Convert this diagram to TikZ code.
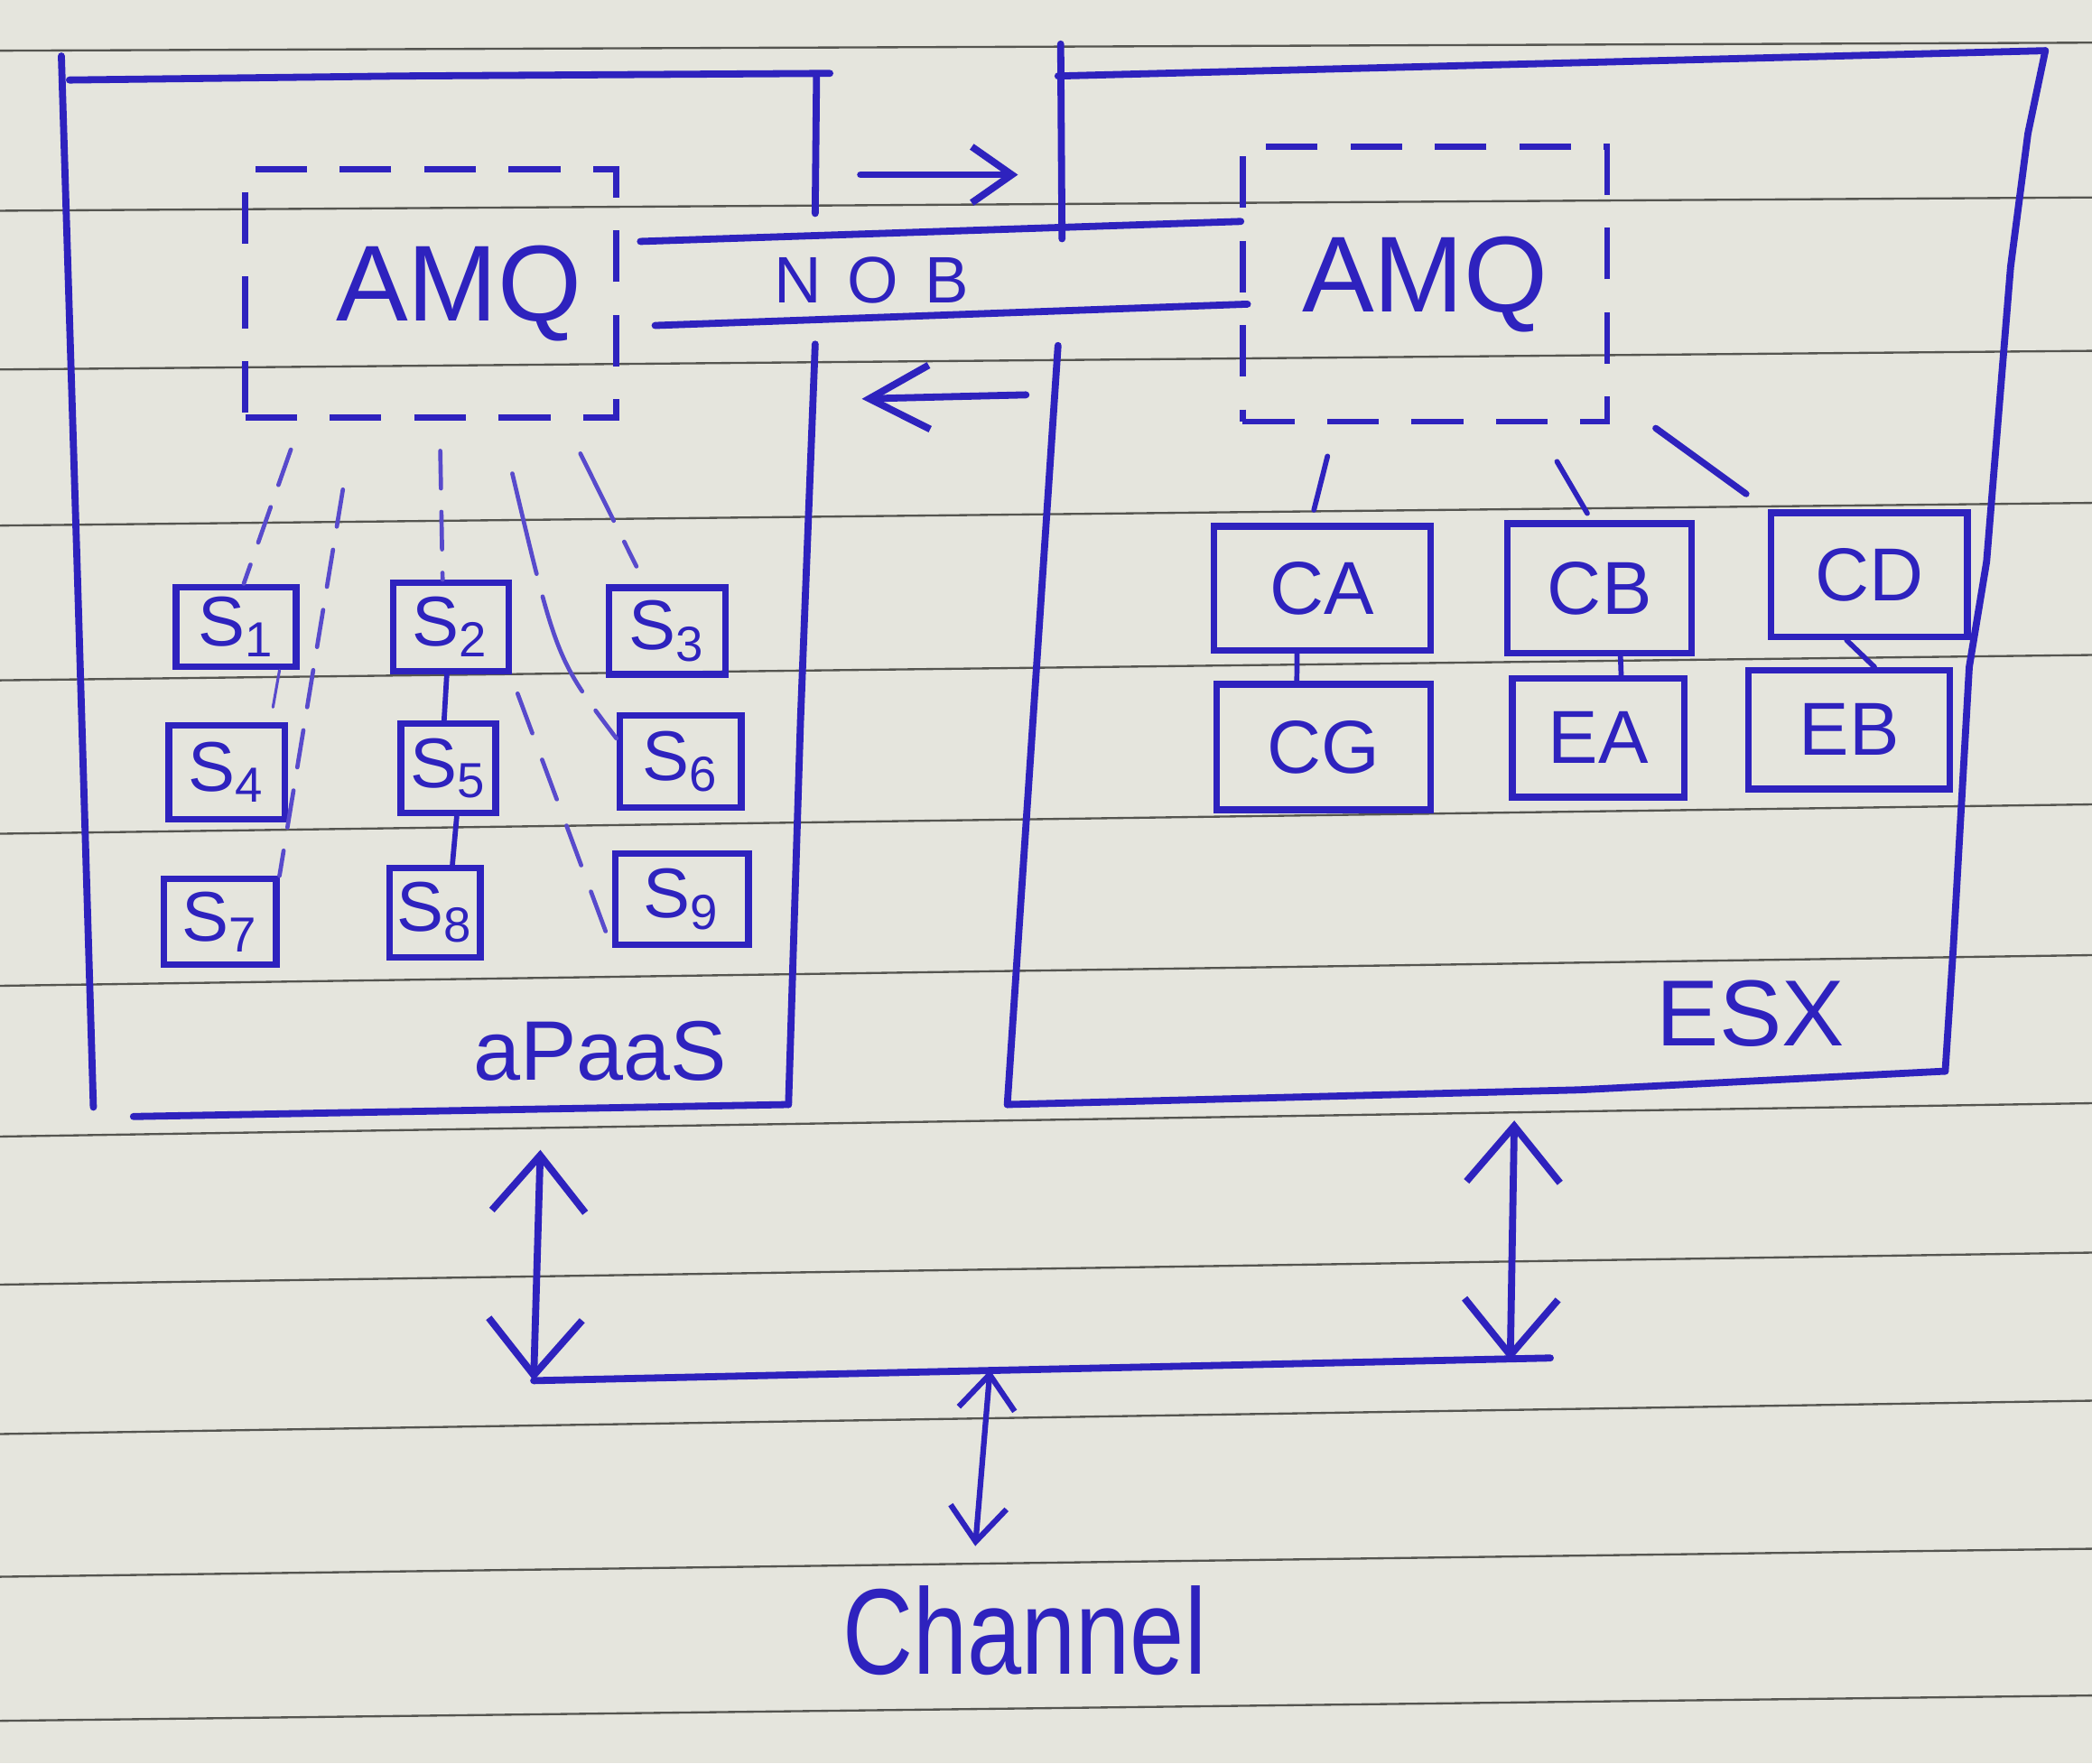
\documentclass[tikz,border=0pt]{standalone}
\usepackage{fontspec}
\usepackage{graphicx}
\setmainfont{Liberation Sans}
\usetikzlibrary{arrows.meta}
\definecolor{ink}{RGB}{46,34,190}
\definecolor{inklight}{RGB}{88,74,204}
\definecolor{paper}{RGB}{229,229,221}
\definecolor{rule}{RGB}{85,85,80}
\begin{document}
\begin{tikzpicture}[x=0.01cm,y=-0.01cm,
  pen/.style={draw=ink, line width=1.5pt, line cap=round, line join=round},
  sbox/.style={draw=ink, line width=1.4pt, inner sep=0pt, text=ink, font=\fontsize{15}{17}\selectfont},
  cbox/.style={draw=ink, line width=1.4pt, inner sep=0pt, text=ink, font=\fontsize{16}{18}\selectfont},
  amqbox/.style={draw=ink, line width=1.3pt, dash pattern=on 11pt off 7pt, inner sep=0pt, text=ink, font=\fontsize{23}{27}\selectfont},
  lbl/.style={text=ink, inner sep=0pt},
  dlink/.style={draw=inklight, line width=0.9pt, dash pattern=on 8pt off 5pt, line cap=round},
  slink/.style={draw=ink, line width=1.1pt, line cap=round},
  bigarrow/.style={pen, {Straight Barb[length=0.42cm,width=0.7cm]}-{Straight Barb[length=0.42cm,width=0.7cm]}},
  smallarrow/.style={pen, line width=1.2pt, {Straight Barb[length=0.26cm,width=0.42cm]}-{Straight Barb[length=0.26cm,width=0.42cm]}}
]
% paper
\fill[paper] (0,0) rectangle (1568,1322);
\useasboundingbox (0,0) rectangle (1568,1322);
\foreach \a/\b in {38/32,158/148,277/263,394/377,510/491,625/603,739/716,852/827,963/939,1075/1050,1182/1161,1290/1271}
  \draw[rule, line width=0.45pt] (0,\a) -- (1568,\b);

% ---- outer box aPaaS ----
\draw[pen] (46,42) -- (58,430) -- (70,830);
\draw[pen] (52,60) -- (300,57) -- (622,55);
\draw[pen] (612,57) -- (611,160);
\draw[pen] (611,258) -- (600,540) -- (591,828);
\draw[pen] (100,837) -- (591,828);
\node[lbl, font=\fontsize{18}{20}\selectfont] (apaas) at (450,788) {aPaaS};

% ---- outer box ESX ----
\draw[pen] (795,33) -- (796,179);
\draw[pen] (793,57) -- (1533,38);
\draw[pen] (1533,38) -- (1520,100) -- (1507,200) -- (1489,421) -- (1476,500) -- (1464,711) -- (1458,803);
\draw[pen] (1458,803) -- (1184,817) -- (755,828);
\draw[pen] (755,828) -- (793,259);
\node[lbl, font=\fontsize{20}{22}\selectfont] (esx) at (1312,760) {ESX};

% ---- AMQ boxes ----
\node[amqbox, minimum width=2.78cm, minimum height=1.86cm] (amqL) at (323,220) {\hspace*{0.42cm}AMQ};
\node[amqbox, minimum width=2.73cm, minimum height=2.06cm] (amqR) at (1068,213) {AMQ};

% ---- NOB channel ----
\coordinate (nu1) at (480,181);
\coordinate (nu2) at (930,166);
\coordinate (nl1) at (491,244);
\coordinate (nl2) at (935,228);
\draw[pen] (nu1) -- (nu2);
\draw[pen] (nl1) -- (nl2);
\node[lbl, font=\fontsize{14}{16}\selectfont] (nob) at (653,210) {N\kern0.4em O\kern0.4em B};
\coordinate (ar1) at (645,131);
\coordinate (ar2) at (763,131);
\draw[pen, -{Straight Barb[length=0.3cm,width=0.42cm]}] (ar1) -- (ar2);
\coordinate (al1) at (769,296);
\coordinate (al2) at (646,299);
\draw[pen, -{Straight Barb[length=0.45cm,width=0.48cm]}] (al1) -- (al2);

% ---- S boxes ----
\node[sbox, minimum width=0.90cm, minimum height=0.60cm] (s1) at (177,470) {S\textsubscript{1}};
\node[sbox, minimum width=0.87cm, minimum height=0.66cm] (s2) at (338,470) {S\textsubscript{2}};
\node[sbox, minimum width=0.87cm, minimum height=0.65cm] (s3) at (500,473) {S\textsubscript{3}};
\node[sbox, minimum width=0.87cm, minimum height=0.70cm] (s4) at (170,579) {S\textsubscript{4}};
\node[sbox, minimum width=0.71cm, minimum height=0.67cm] (s5) at (336,576) {S\textsubscript{5}};
\node[sbox, minimum width=0.91cm, minimum height=0.69cm] (s6) at (510,571) {S\textsubscript{6}};
\node[sbox, minimum width=0.84cm, minimum height=0.64cm] (s7) at (165,691) {S\textsubscript{7}};
\node[sbox, minimum width=0.68cm, minimum height=0.67cm] (s8) at (326,684) {S\textsubscript{8}};
\node[sbox, minimum width=1.00cm, minimum height=0.68cm] (s9) at (511,674) {S\textsubscript{9}};

% links from left AMQ
\coordinate (p1) at (218,337);
\coordinate (p2) at (257,367);
\coordinate (p3) at (330,338);
\coordinate (p4) at (384,355);
\coordinate (p5) at (435,340);
\coordinate (p6) at (388,520);
\draw[dlink] (p1) -- (s1.80);
\draw[dlink] (p2) -- (s7.north east);
\draw[dlink] (p3) -- (s2.100);
\draw[dlink, dash pattern=on 22pt off 5pt] (p4) .. controls (417,494) .. (s6.160);
\draw[dlink, dash pattern=on 16pt off 5pt, shorten >=0.15cm] (p5) -- (s3.115);
\draw[dlink, dash pattern=on 9pt off 6pt, shorten >=0.12cm] (p6) -- (s9.south west);
\draw[dlink, line width=0.6pt] (s1.315) -- (s4.49);
\draw[slink] (s2.265) -- (s5.95);
\draw[slink] (s5.280) -- (s8.70);

% ---- C boxes ----
\node[cbox, minimum width=1.62cm, minimum height=0.93cm] (ca) at (991,441) {CA};
\node[cbox, minimum width=1.38cm, minimum height=0.97cm] (cb) at (1199,441) {CB};
\node[cbox, minimum width=1.47cm, minimum height=0.93cm] (cd) at (1401,431) {CD};
\node[cbox, minimum width=1.60cm, minimum height=0.94cm] (cg) at (992,560) {CG};
\node[cbox, minimum width=1.29cm, minimum height=0.89cm] (ea) at (1198,553) {EA};
\node[cbox, minimum width=1.51cm, minimum height=0.89cm] (eb) at (1386,547) {EB};

\coordinate (q1) at (995,342);
\coordinate (q2) at (1167,346);
\coordinate (q3) at (1241,321);
\draw[slink, shorten >=0.1cm] (q1) -- (ca.100);
\draw[slink, shorten >=0.06cm] (q2) -- (cb.97);
\draw[slink, line width=1.4pt, shorten >=0.2cm] (q3) -- (cd.north west);
\draw[slink] (ca.249) -- (cg.112);
\draw[slink] (cb.287) -- (ea.70);
\draw[slink] (cd.251) -- (eb.68);

% ---- bottom bus ----
\coordinate (busL) at (400,1035);
\coordinate (busR) at (1162,1018);
\coordinate (busC) at (742,1027);
\coordinate (aLt) at (405,862);
\coordinate (aRt) at (1135,840);
\coordinate (aRb) at (1132,1020);
\coordinate (aCb) at (731,1159);
\draw[pen] (busL) -- (busR);
\draw[bigarrow] (aLt) -- (busL);
\draw[bigarrow] (aRt) -- (aRb);
\draw[smallarrow] (busC) -- (aCb);
\node[lbl, font=\fontsize{26}{30}\selectfont] (channel) at (768,1222) {\scalebox{0.8}[1]{Channel}};
\end{tikzpicture}
\end{document}
